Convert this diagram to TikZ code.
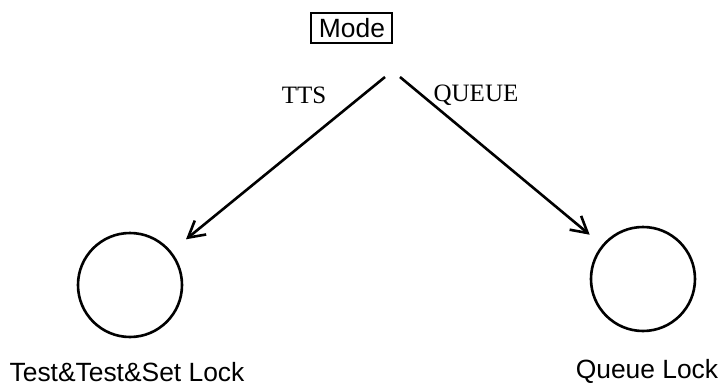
\documentclass[tikz,border=0pt]{standalone}
\usepackage{fontspec}
\setmainfont{Liberation Serif}
\setsansfont{Liberation Sans}
\usetikzlibrary{arrows.meta}

\begin{document}
\begin{tikzpicture}[x=0.5pt,y=-0.5pt,>={Straight Barb[length=8pt,width=9pt]},line width=1.3pt,
  font=\fontsize{12.5}{14}\selectfont,
  lock/.style={draw,circle,minimum size=52pt,inner sep=0pt},
  sans/.style={font=\sffamily\fontsize{13.2}{15}\selectfont}]
\useasboundingbox (0,0) rectangle (720,386);
\node[draw,sans,minimum width=40.5pt,minimum height=15pt,inner sep=0pt,line width=1pt] (mode) at (352,28) {Mode};
\coordinate (ttsstart) at (385,77);
\coordinate (queuestart) at (400,77);
\node[lock] (tts) at (130,285) {};
\node[lock] (queue) at (643,279) {};
\node[sans] (ttslabel) at (127,372) {Test\&Test\&Set Lock};
\node[sans] (queuelabel) at (647,371) {Queue Lock};
\draw[->,shorten >=9.5pt] (ttsstart) -- (tts);
\draw[->,shorten >=8pt] (queuestart) -- (queue);
\node (ttsedge) at (304,95) {TTS};
\node (queueedge) at (476,95) {QUEUE};
\end{tikzpicture}
\end{document}
